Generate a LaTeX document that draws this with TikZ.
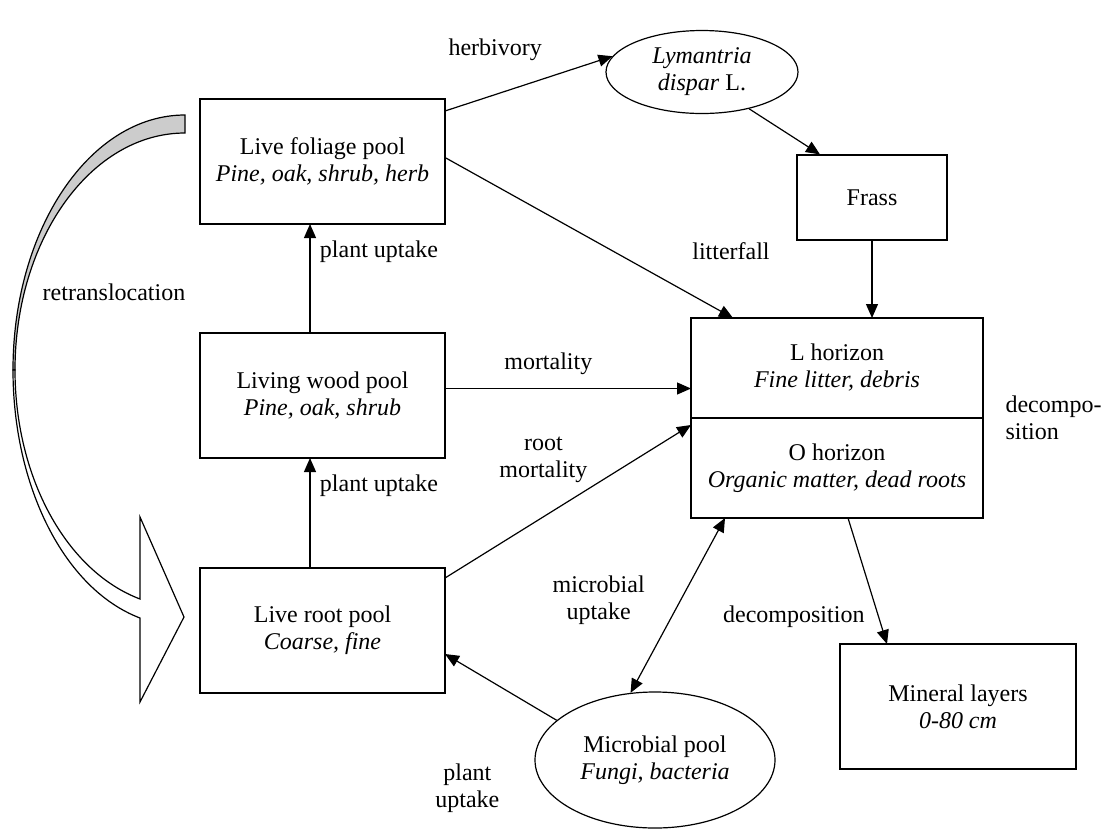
\documentclass[tikz,border=0pt]{standalone}
\usepackage{fontspec}
\setmainfont{Liberation Serif}
\usetikzlibrary{arrows.meta, positioning, shapes}

\begin{document}
\begin{tikzpicture}[x=1pt, y=1pt, font=\fontsize{24}{27}\selectfont,
    pool/.style={draw, line width=1.2pt, align=center, outer sep=0pt, minimum width=245pt, minimum height=125pt},
    layer/.style={draw, line width=1.2pt, align=center, outer sep=0pt, minimum width=292pt, minimum height=100pt},
    blob/.style={draw, ellipse, line width=1.2pt, align=center, inner sep=0pt},
    flow/.style={-{Triangle[length=14pt, width=12pt]}, line width=1.2pt},
    twoway/.style={{Triangle[length=14pt, width=12pt]}-{Triangle[length=14pt, width=12pt]}, line width=1.2pt}]
    \useasboundingbox (0,0) rectangle (1114,-831);

    \filldraw[fill=black!20, line width=1.2pt]
        (185,-115) .. controls (90,-115) and (13,-229) .. (13,-370)
        -- (15,-370) .. controls (15,-239) and (91,-133) .. (185,-133) -- cycle;
    \filldraw[fill=white, line width=1.2pt]
        (13,-370) .. controls (13,-486) and (64,-589) .. (140,-618)
        -- (140,-702) -- (184,-617) -- (140,-517) -- (140,-599)
        .. controls (66,-571) and (15,-477) .. (15,-370) -- cycle;
    \node (RT) at (114,-292) {retranslocation};

    \node (LF) [pool] at (322.5,-161.5) {Live foliage pool\\\textit{Pine, oak, shrub, herb}};
    \node (LW) [pool, below=109pt of LF] {Living wood pool\\\textit{Pine, oak, shrub}};
    \node (LR) [pool, below=110pt of LW] {Live root pool\\\textit{Coarse, fine}};

    \node (LD) [blob, minimum width=192pt, minimum height=83pt] at (702,-72) {\textit{Lymantria}\\\textit{dispar} L.};
    \node (FR) [draw, line width=1.2pt, minimum width=150pt, minimum height=85pt] at (872,-197.5) {Frass};

    \node (LH) [layer] at (837,-368) {L horizon\\\textit{Fine litter, debris}};
    \node (OH) [layer, below=0pt of LH] {O horizon\\\textit{Organic matter, dead roots}};
    \node (DC) [right=19pt of OH.north east, align=left] {decompo-\\sition};
    \node (ML) [pool, minimum width=236pt] at (958,-706.5) {Mineral layers\\\textit{0-80 cm}};
    \node (MP) [blob, minimum width=240pt, minimum height=136pt] at (655,-760) {Microbial pool\\\textit{Fungi, bacteria}};

    \draw[flow] ([yshift=-12pt]LF.north east) -- node[pos=0.3, above=30pt] {herbivory} (LD.170);
    \draw[flow] ([yshift=4pt]LF.east) -- node[pos=0.8, above right=22pt and 13pt] {litterfall} ([xshift=-104pt]LH.north);
    \draw[flow] (LD.-38) -- ([xshift=-52pt]FR.north);
    \draw[flow] (FR.south) -- (FR.south |- LH.north);

    \draw[flow] ([xshift=-12.5pt]LW.north) -- node[pos=0.75, right=6pt] {plant uptake} ([xshift=-12.5pt]LF.south);
    \draw[flow] ([xshift=-12.5pt]LR.north) -- node[pos=0.75, right=6pt] {plant uptake} ([xshift=-12.5pt]LW.south);
    \draw[flow] ([yshift=7pt]LW.east) -- node[pos=0.42, above=10pt] {mortality} ([yshift=7pt]LW.east -| LH.west);
    \draw[flow] ([yshift=-10pt]LR.north east) -- node[pos=0.4, above=30pt, align=center] {root\\mortality} ([yshift=-7pt]OH.north west);

    \draw[flow] ([xshift=11pt]OH.south) -- node[pos=0.78, left=10pt] {decomposition} ([xshift=-71pt]ML.north);
    \draw[twoway] ([xshift=-112pt]OH.south) -- node[pos=0.47, left=32pt, align=center] {microbial\\uptake} (MP.110);
    \draw[flow] (MP.158) -- node[pos=0.8, below=93pt, align=center] {plant\\uptake} ([yshift=-23.5pt]LR.east);
\end{tikzpicture}
\end{document}
